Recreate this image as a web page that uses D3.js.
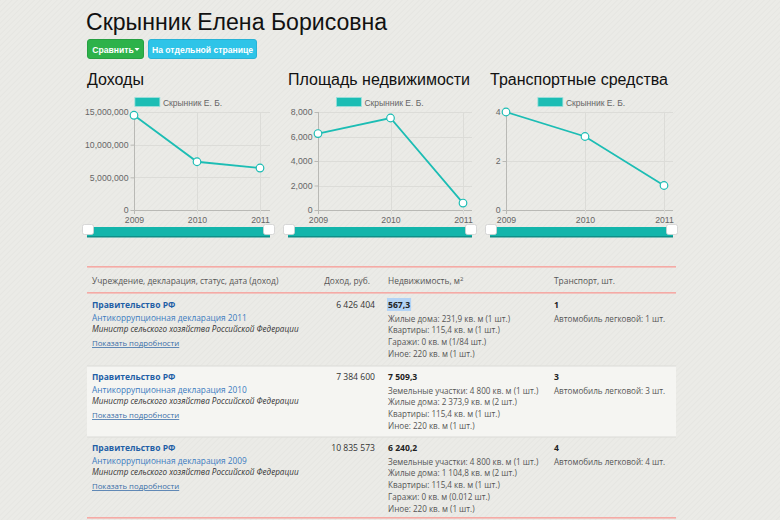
<!DOCTYPE html>
<html><head><meta charset="utf-8">
<script src="https://cdn.jsdelivr.net/npm/d3@7"></script>
<style>
html,body{margin:0;padding:0;background:#ebebe7;overflow:hidden}
svg{display:block}
</style></head>
<body><svg id="c" width="780" height="520"></svg>
<script>
// ---- data ----
const years = [2009, 2010, 2011];
const income = [14500000, 7384600, 6426404];
const area = [6240.2, 7509.3, 567.3];
const transport = [4, 3, 1];
const incomeTicks = [0, 5000000, 10000000, 15000000];
const areaTicks = [0, 2000, 4000, 6000, 8000];
const transportTicks = [0, 2, 4];
const chartTitles = ["Доходы", "Площадь недвижимости", "Транспортные средства"];
const seriesName = "Скрынник Е. Б.";
const pageTitle = "Скрынник Елена Борисовна";
const buttons = ["Сравнить", "На отдельной странице"];
const headers = ["Учреждение, декларация, статус, дата (доход)", "Доход, руб.", "Недвижимость, м", "Транспорт, шт."];
const rowYears = [2011, 2010, 2009];
const rowIncome = ["6 426 404", "7 384 600", "10 835 573"];
const rowArea = ["567,3", "7 509,3", "6 240,2"];
const rowAreaDetails = [
  ["Жилые дома: 231,9 кв. м (1 шт.)", "Квартиры: 115,4 кв. м (1 шт.)", "Гаражи: 0 кв. м (1/84 шт.)", "Иное: 220 кв. м (1 шт.)"],
  ["Земельные участки: 4 800 кв. м (1 шт.)", "Жилые дома: 2 373,9 кв. м (2 шт.)", "Квартиры: 115,4 кв. м (1 шт.)", "Иное: 220 кв. м (1 шт.)"],
  ["Земельные участки: 4 800 кв. м (1 шт.)", "Жилые дома: 1 104,8 кв. м (2 шт.)", "Квартиры: 115,4 кв. м (1 шт.)", "Гаражи: 0 кв. м (0.012 шт.)", "Иное: 220 кв. м (1 шт.)"]
];
const rowTransport = ["1", "3", "4"];
const rowTransportDetails = ["Автомобиль легковой: 1 шт.", "Автомобиль легковой: 3 шт.", "Автомобиль легковой: 4 шт."];
const orgName = "Правительство РФ";
const declName = "Антикоррупционная декларация ";
const position = "Министр сельского хозяйства Российской Федерации";
const detailsLink = "Показать подробности";

const svg = d3.select("#c");
const SANS = "'Liberation Sans', Arial, Helvetica, sans-serif";
const OPEN = "'Open Sans', 'Noto Sans', sans-serif";
const TEAL = "#1cbdb4";

// background subtle diagonal texture
const defs = svg.append("defs");
const pat = defs.append("pattern").attr("id","tex").attr("width",4).attr("height",4)
  .attr("patternUnits","userSpaceOnUse").attr("patternTransform","rotate(45)");
pat.append("rect").attr("width",4).attr("height",4).attr("fill","#ebebe7");
pat.append("rect").attr("width",1).attr("height",4).attr("fill","#e6e6e2");
svg.append("rect").attr("width",780).attr("height",520).attr("fill","url(#tex)");

// title
svg.append("text").attr("x",86).attr("y",30).attr("font-family",SANS).attr("font-size",23.1)
  .attr("fill","#111").text(pageTitle);

// buttons
const btn = [{x:87,w:56,fill:"#2db24a",stroke:"#27a042"},{x:148,w:108,fill:"#2ec4e8",stroke:"#28b3d6"}];
btn.forEach((b,i)=>{
  svg.append("rect").attr("x",b.x+0.5).attr("y",39.5).attr("width",b.w).attr("height",19).attr("rx",2.5)
    .attr("fill",b.fill).attr("stroke",b.stroke);
  svg.append("text").attr("x",b.x+b.w/2+(i===0?-2:0.5)).attr("y",52.5).attr("text-anchor","middle")
    .attr("font-family",SANS).attr("font-size",8.6).attr("font-weight","bold").attr("fill","#fff")
    .text(buttons[i]);
});
// caret on first button
svg.append("path").attr("d","M134.5,48 l5,0 l-2.5,3 z").attr("fill","#fff");

// charts
const charts = [
  {title:chartTitles[0], vals:income, ticks:incomeTicks, box:[87,270], axisX:134, lastX:260},
  {title:chartTitles[1], vals:area, ticks:areaTicks, box:[288,472], axisX:318, lastX:463},
  {title:chartTitles[2], vals:transport, ticks:transportTicks, box:[490,673], axisX:506, lastX:664}
];
const fmt = d3.format(",");
charts.forEach(c=>{
  const g = svg.append("g");
  g.append("text").attr("x",c.box[0]).attr("y",85).attr("font-family",SANS).attr("font-size",16)
    .attr("fill","#111").text(c.title);
  // legend centered in box
  const cx = (c.box[0]+c.box[1])/2;
  const lg = g.append("g");
  const lt = lg.append("text").attr("x",28).attr("y",8).attr("font-family",SANS).attr("font-size",8.5)
    .attr("fill","#666").text(seriesName);
  const lw = 28 + lt.node().getComputedTextLength();
  lg.insert("rect","text").attr("x",0).attr("y",0).attr("width",25).attr("height",9).attr("fill",TEAL)
    .attr("stroke","#9fe0dc").attr("stroke-width",0.8);
  lg.attr("transform",`translate(${cx - lw/2},97.5)`);

  const x = d3.scaleLinear().domain([years[0], years[years.length-1]]).range([c.axisX, c.lastX]);
  const y = d3.scaleLinear().domain([0, c.ticks[c.ticks.length-1]]).range([210, 112]);
  const right = c.box[1];
  // horizontal grid
  g.selectAll(".hg").data(c.ticks).join("line")
    .attr("x1",c.axisX).attr("x2",right).attr("y1",d=>Math.round(y(d))+0.5).attr("y2",d=>Math.round(y(d))+0.5)
    .attr("stroke",d=>d===0?"#b9b9b5":"#dcdcd8").attr("stroke-width",1);
  // vertical grid
  g.selectAll(".vg").data(years).join("line")
    .attr("x1",d=>Math.round(x(d))+0.5).attr("x2",d=>Math.round(x(d))+0.5).attr("y1",112).attr("y2",214)
    .attr("stroke",(d,i)=>i===0?"#b9b9b5":"#dcdcd8");
  // y tick labels
  const ya = d3.axisLeft(y).tickValues(c.ticks).tickFormat(fmt).tickSize(4).tickPadding(2);
  const yg = g.append("g").attr("transform",`translate(${c.axisX+0.5},0)`).call(ya);
  yg.select(".domain").remove();
  yg.selectAll("line").attr("stroke","#b9b9b5");
  yg.selectAll("text").attr("font-family",SANS).attr("font-size",8.7).attr("fill","#666");
  // x tick labels
  const xa = d3.axisBottom(x).tickValues(years).tickFormat(d3.format("d")).tickSize(0).tickPadding(6);
  const xg = g.append("g").attr("transform",`translate(0,211)`).call(xa);
  xg.select(".domain").remove();
  xg.selectAll("text").attr("font-family",SANS).attr("font-size",8.7).attr("fill","#666");
  // line
  const line = d3.line().x((d,i)=>x(years[i])).y(d=>y(d));
  g.append("path").datum(c.vals).attr("d",line).attr("fill","none").attr("stroke",TEAL).attr("stroke-width",1.8);
  g.selectAll(".pt").data(c.vals).join("circle").attr("cx",(d,i)=>x(years[i])).attr("cy",d=>y(d))
    .attr("r",3.8).attr("fill","#fff").attr("stroke",TEAL).attr("stroke-width",1.2);
  // slider
  g.append("rect").attr("x",c.box[0]).attr("y",227).attr("width",c.box[1]-c.box[0]).attr("height",10)
    .attr("fill","#13b5ab");
  g.append("rect").attr("x",c.box[0]).attr("y",236).attr("width",c.box[1]-c.box[0]).attr("height",1.5)
    .attr("fill","#0e8f88");
  [c.box[0]-4.5, c.box[1]-6.5].forEach(hx=>{
    g.append("rect").attr("x",hx).attr("y",224.5).attr("width",11).attr("height",10).attr("rx",2)
      .attr("fill","#fff").attr("stroke","#cfcfcf").attr("stroke-width",0.8);
  });
});

// table
const T = svg.append("g");
const L = 87, R = 676;
T.append("rect").attr("x",L).attr("y",266).attr("width",R-L).attr("height",1.6).attr("fill","#f5aaa5");
T.append("rect").attr("x",L).attr("y",292).attr("width",R-L).attr("height",1.6).attr("fill","#f5aaa5");
const hdr = T.append("g").attr("font-family",OPEN).attr("font-size",8.4).attr("fill","#555");
hdr.append("text").attr("x",92).attr("y",284).text(headers[0]);
hdr.append("text").attr("x",370).attr("y",284).attr("text-anchor","end").text(headers[1]);
const h3 = hdr.append("text").attr("x",388).attr("y",284).text(headers[2]);
h3.append("tspan").attr("dy",-3.5).attr("font-size",6).text("2");
hdr.append("text").attr("x",554).attr("y",284).text(headers[3]);

const rowTop = [294, 366, 437];
const rowBottom = [366, 437, 517];
rowTop.forEach((top,i)=>{
  if(i===1){
    T.append("rect").attr("x",L).attr("y",top).attr("width",R-L).attr("height",rowBottom[i]-top)
      .attr("fill","#f5f5f2");
  }
  if(i>0) T.append("rect").attr("x",L).attr("y",top-0.5).attr("width",R-L).attr("height",1).attr("fill","#dcdcd8");
  const b = top + 14;
  const g = T.append("g").attr("font-family",OPEN);
  g.append("text").attr("x",92).attr("y",b).attr("font-size",8.5).attr("font-weight","bold")
    .attr("fill","#1f5fa6").text(orgName);
  g.append("text").attr("x",92).attr("y",b+12.5).attr("font-size",8.3).attr("fill","#3b7bc0")
    .text(declName + rowYears[i]);
  g.append("text").attr("x",92).attr("y",b+24).attr("font-size",8.1).attr("font-style","italic")
    .attr("fill","#333").text(position);
  g.append("text").attr("x",92).attr("y",b+38).attr("font-size",7.8).attr("fill","#3a6ea8")
    .attr("text-decoration","underline").text(detailsLink);
  g.append("text").attr("x",375).attr("y",b).attr("text-anchor","end").attr("font-size",8.6)
    .attr("fill","#333").text(rowIncome[i]);
  const at = g.append("text").attr("x",388).attr("y",b).attr("font-size",8.6).attr("font-weight","bold")
    .attr("fill","#222").text(rowArea[i]);
  if(i===0){
    const w = at.node().getComputedTextLength();
    g.insert("rect","text").attr("x",387).attr("y",b-10).attr("width",w+2).attr("height",13).attr("fill","#b3d3f5");
  }
  rowAreaDetails[i].forEach((t,k)=>{
    g.append("text").attr("x",388).attr("y",b+13.5+k*11.8).attr("font-size",8.1).attr("fill","#555").text(t);
  });
  g.append("text").attr("x",554).attr("y",b).attr("font-size",8.6).attr("font-weight","bold")
    .attr("fill","#222").text(rowTransport[i]);
  g.append("text").attr("x",554).attr("y",b+13.5).attr("font-size",8.1).attr("fill","#555").text(rowTransportDetails[i]);
});
T.append("rect").attr("x",L).attr("y",517).attr("width",R-L).attr("height",1.6).attr("fill","#f5aaa5");
</script></body></html>
